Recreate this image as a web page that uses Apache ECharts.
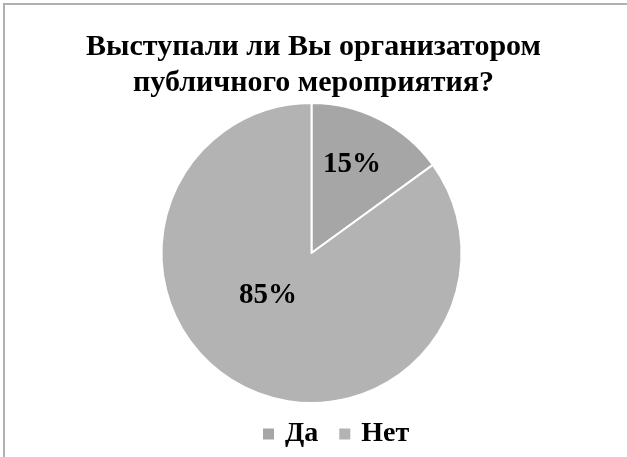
<!DOCTYPE html>
<html>
<head>
<meta charset="utf-8">
<script src="https://cdn.jsdelivr.net/npm/echarts@6/dist/echarts.min.js"></script>
<style>html,body{margin:0;padding:0;background:#fff;}#c{width:627px;height:457px;}</style>
</head>
<body>
<div id="c"></div>
<script>
const titleText = 'Выступали ли Вы организатором\nпубличного мероприятия?';
const categories = ['Да', 'Нет'];
const values = [15, 85];
const colors = ['#a6a6a6', '#b3b3b3'];
const labelOffsets = [[5, -19], [-8, -27]];

const chart = echarts.init(document.getElementById('c'), null, {renderer: 'canvas'});
const serif = '"Liberation Serif", "Times New Roman", serif';
chart.setOption({
  backgroundColor: '#ffffff',
  animation: false,
  graphic: [{
    type: 'rect',
    shape: {x: 4, y: 4, width: 700, height: 600},
    style: {fill: 'none', stroke: '#b0b0b0', lineWidth: 2},
    silent: true
  }],
  title: {
    text: titleText,
    left: 'center',
    top: 24,
    textStyle: {fontFamily: serif, fontWeight: 'bold', fontSize: 30, lineHeight: 36, color: '#000'}
  },
  legend: {
    data: categories,
    top: 415,
    left: 256,
    icon: 'rect',
    itemWidth: 13,
    itemHeight: 13,
    itemGap: 19,
    textStyle: {fontFamily: serif, fontWeight: 'bold', fontSize: 28, color: '#000', padding: [0, 0, 0, 5]}
  },
  series: [{
    type: 'pie',
    center: [311.5, 253],
    radius: 150,
    startAngle: 90,
    clockwise: true,
    itemStyle: {borderColor: '#fff', borderWidth: 2},
    label: {
      show: true,
      position: 'inside',
      formatter: '{c}%',
      fontFamily: serif,
      fontWeight: 'bold',
      fontSize: 29,
      color: '#000'
    },
    emphasis: {disabled: true},
    data: categories.map((n, i) => ({
      name: n,
      value: values[i],
      itemStyle: {color: colors[i]},
      label: {offset: labelOffsets[i]}
    }))
  }]
});
</script>
</body>
</html>
